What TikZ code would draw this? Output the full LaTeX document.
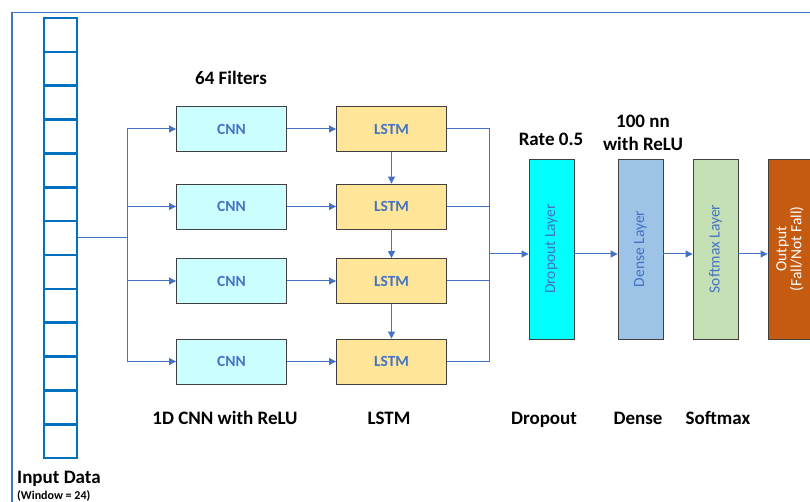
\documentclass[tikz,border=0pt]{standalone}
\usepackage{fontspec}
\setmainfont{Carlito}
\usetikzlibrary{arrows.meta}
\definecolor{lnblue}{RGB}{68,114,196}
\definecolor{colblue}{RGB}{0,112,192}
\definecolor{cnnfill}{RGB}{204,255,255}
\definecolor{lstmfill}{RGB}{255,230,153}
\definecolor{dropfill}{RGB}{0,255,255}
\definecolor{densefill}{RGB}{157,195,230}
\definecolor{softfill}{RGB}{197,224,180}
\definecolor{outfill}{RGB}{197,90,17}
\definecolor{bord}{RGB}{64,64,64}
\tikzset{
  box/.style={draw=bord, line width=0.9pt, minimum width=110pt, minimum height=45pt, inner sep=0pt,
    font=\fontsize{15.5}{17}\selectfont\bfseries, text=lnblue},
  cnnbox/.style={box, fill=cnnfill},
  lstmbox/.style={box, fill=lstmfill},
  layer/.style={draw=bord, line width=0.9pt, minimum width=45pt, minimum height=180pt, inner sep=0pt,
    font=\fontsize{15.5}{17}\selectfont, text=lnblue},
  conn/.style={draw=lnblue, line width=1pt},
  arr/.style={conn, -{Triangle[length=7pt,width=7pt]}},
  hdr/.style={font=\fontsize{19}{22}\selectfont\bfseries, text=black, inner sep=0pt},
  ftr/.style={hdr, anchor=base},
}
\begin{document}
\begin{tikzpicture}[x=1pt,y=-1pt]
\useasboundingbox (0,0) rectangle (810,502);
\fill[white] (0,0) rectangle (810,502);
% frame
\draw[lnblue, line width=1.5pt] (12,515) -- (12,12.5) -- (815,12.5);

% input column
\node[draw=colblue, line width=2.6pt, minimum width=33pt, minimum height=440pt, inner sep=0pt] (inp) at (60.5,238) {};
\foreach \i in {1,...,12} {
  \draw[colblue, line width=2.6pt] (44,18+\i*33.85) -- (77,18+\i*33.85);
}

% CNN and LSTM boxes
\node[cnnbox] (c1) at (231.5,129) {CNN};
\node[cnnbox] (c2) at (231.5,206.5) {CNN};
\node[cnnbox] (c3) at (231.5,281) {CNN};
\node[cnnbox] (c4) at (231.5,361.5) {CNN};
\node[lstmbox] (l1) at (391.5,129) {LSTM};
\node[lstmbox] (l2) at (391.5,206.5) {LSTM};
\node[lstmbox] (l3) at (391.5,281) {LSTM};
\node[lstmbox] (l4) at (391.5,361.5) {LSTM};

% layers
\node[layer, fill=dropfill] (drop) at (551.5,249) {\rotatebox{90}{Dropout Layer}};
\node[layer, fill=densefill] (dense) at (640.5,249) {\rotatebox{90}{Dense Layer}};
\node[layer, fill=softfill] (soft) at (715.5,249) {\rotatebox{90}{Softmax Layer}};
\node[layer, fill=outfill, text=white] (out) at (790.5,249) {\rotatebox{90}{\begin{tabular}{@{}c@{}}Output\\[-2pt](Fall/Not Fall)\end{tabular}}};

% input bus
\coordinate (b) at (127,238);
\coordinate (bt) at (127,129);
\coordinate (bb) at (127,361.5);
\draw[conn] (inp.east) -- (b);
\draw[conn] (bt) -- (bb);
\draw[arr] (bt) -- (c1);
\draw[arr] (b |- c2) -- (c2);
\draw[arr] (b |- c3) -- (c3);
\draw[arr] (bb) -- (c4);

% CNN -> LSTM
\draw[arr] (c1) -- (l1);
\draw[arr] (c2) -- (l2);
\draw[arr] (c3) -- (l3);
\draw[arr] (c4) -- (l4);

% LSTM chain
\draw[arr] (l1) -- (l2);
\draw[arr] (l2) -- (l3);
\draw[arr] (l3) -- (l4);

% LSTM output bus
\coordinate (rb) at (489,254);
\draw[conn] (l1.east) -- (l1.east -| rb) -- (l4.east -| rb) -- (l4.east);
\draw[conn] (l2.east) -- (l2.east -| rb);
\draw[conn] (l3.east) -- (l3.east -| rb);
\draw[arr] (rb) -- (rb -| drop.west);
\draw[arr] (rb -| drop.east) -- (rb -| dense.west);
\draw[arr] (rb -| dense.east) -- (rb -| soft.west);
\draw[arr] (rb -| soft.east) -- (rb -| out.west);

% headers
\node[hdr] (hf) at (231,78) {64 Filters};
\node[hdr] (hr) at (551,139) {Rate 0.5};
\node[hdr, align=center] (hn) at (643,133) {100 nn\\[1pt]with ReLU};
\node[ftr] (fc) at (225,424.5) {1D CNN with ReLU};
\node[ftr] (fl) at (389,424.5) {LSTM};
\node[ftr] (fd) at (544,424.5) {Dropout};
\node[ftr] (fe) at (638,424.5) {Dense};
\node[ftr] (fs) at (718,424.5) {Softmax};
\node[hdr, anchor=west] (fi) at (17,479) {Input Data};
\node[anchor=west, inner sep=0pt, font=\fontsize{12}{14}\selectfont\bfseries] (fw) at (17,495.5) {(Window = 24)};
\end{tikzpicture}
\end{document}
